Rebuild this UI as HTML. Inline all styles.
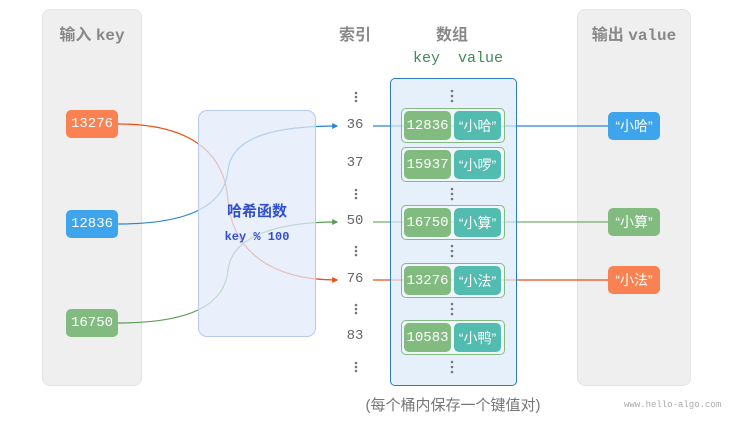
<!DOCTYPE html>
<html><head><meta charset="utf-8"><style>
body{margin:0;width:739px;height:423px;background:#fff;position:relative;overflow:hidden;font-family:"Liberation Sans","Noto Sans CJK SC",sans-serif}
.a{position:absolute}
.mono{font-family:"Liberation Mono","Noto Sans CJK SC",monospace}
.box{position:absolute;border-radius:5px;color:#fff;display:flex;align-items:center;justify-content:center;font-size:14px}
</style></head><body>
<div class="a" style="left:42px;top:9px;width:100px;height:377px;background:#efefef;border:1px solid #e4e4e4;border-radius:8px;box-sizing:border-box"></div>
<div class="a" style="left:577px;top:9px;width:114px;height:377px;background:#efefef;border:1px solid #e4e4e4;border-radius:8px;box-sizing:border-box"></div>

<svg class="a" style="left:0;top:0" width="739" height="423">
<defs>
<marker id="mb" markerWidth="5" markerHeight="5" refX="4" refY="2.5" orient="auto"><path d="M0,0L5,2.5L0,5z" fill="#2a85d0"/></marker>
<marker id="mo" markerWidth="5" markerHeight="5" refX="4" refY="2.5" orient="auto"><path d="M0,0L5,2.5L0,5z" fill="#ee4d14"/></marker>
<marker id="mg" markerWidth="5" markerHeight="5" refX="4" refY="2.5" orient="auto"><path d="M0,0L5,2.5L0,5z" fill="#5a9e5a"/></marker>
</defs>
<path d="M118,124 C200,124 225,160 228,200 C232,250 270,280 337,280" stroke="#ee4d14" stroke-width="1.2" fill="none" marker-end="url(#mo)"/>
<path d="M118,224 C190,224 225,205 228,170 C232,135 280,126 337,126" stroke="#2a85d0" stroke-width="1.2" fill="none" marker-end="url(#mb)"/>
<path d="M118,323 C190,323 225,305 228,270 C232,235 280,222 337,222" stroke="#5a9e5a" stroke-width="1.2" fill="none" marker-end="url(#mg)"/>
<line x1="373" y1="126" x2="608" y2="126" stroke="#2a85d0" stroke-width="1.3"/>
<line x1="373" y1="222" x2="608" y2="222" stroke="#6fae6f" stroke-width="1.3"/>
<line x1="373" y1="280" x2="608" y2="280" stroke="#ee4d14" stroke-width="1.3"/>
</svg>

<div class="a" style="left:198px;top:110px;width:118px;height:227px;background:rgba(225,233,250,0.75);border:1px solid #b9c8f0;border-radius:9px;box-sizing:border-box"></div>
<div class="a" style="left:390px;top:78px;width:127px;height:308px;background:rgba(220,234,248,0.7);border:1.5px solid #2a7ac6;border-radius:5px;box-sizing:border-box"></div>

<svg class="a" style="left:0;top:0" width="739" height="423">
<g fill="#777">
<circle cx="356" cy="93" r="1.3"/><circle cx="356" cy="97" r="1.3"/><circle cx="356" cy="101" r="1.3"/>
<circle cx="356" cy="190" r="1.3"/><circle cx="356" cy="194" r="1.3"/><circle cx="356" cy="198" r="1.3"/>
<circle cx="356" cy="247" r="1.3"/><circle cx="356" cy="251" r="1.3"/><circle cx="356" cy="255" r="1.3"/>
<circle cx="356" cy="305" r="1.3"/><circle cx="356" cy="309" r="1.3"/><circle cx="356" cy="313" r="1.3"/>
<circle cx="356" cy="363" r="1.3"/><circle cx="356" cy="367" r="1.3"/><circle cx="356" cy="371" r="1.3"/>
<circle cx="452" cy="91" r="1.3"/><circle cx="452" cy="96" r="1.3"/><circle cx="452" cy="101" r="1.3"/>
<circle cx="452" cy="189" r="1.3"/><circle cx="452" cy="194" r="1.3"/><circle cx="452" cy="199" r="1.3"/>
<circle cx="452" cy="246" r="1.3"/><circle cx="452" cy="251" r="1.3"/><circle cx="452" cy="256" r="1.3"/>
<circle cx="452" cy="304" r="1.3"/><circle cx="452" cy="309" r="1.3"/><circle cx="452" cy="314" r="1.3"/>
<circle cx="452" cy="362" r="1.3"/><circle cx="452" cy="367" r="1.3"/><circle cx="452" cy="372" r="1.3"/>
</g>
</svg>

<div class="a" style="left:42px;top:21px;width:100px;text-align:center;font-size:16px;font-weight:bold;color:#888">输入 <span class="mono">key</span></div>
<div class="a" style="left:577px;top:21px;width:114px;text-align:center;font-size:16px;font-weight:bold;color:#888">输出 <span class="mono">value</span></div>
<div class="a" style="left:335px;top:21px;width:40px;text-align:center;font-size:16px;font-weight:bold;color:#888">索引</div>
<div class="a" style="left:432px;top:21px;width:40px;text-align:center;font-size:16px;font-weight:bold;color:#888">数组</div>
<div class="a mono" style="left:413px;top:50px;font-size:15px;color:#3e8a55;white-space:pre">key  value</div>

<div class="box mono" style="left:66px;top:110px;width:52px;height:28px;background:#fa8151;font-size:14px">13276</div>
<div class="box mono" style="left:66px;top:210px;width:52px;height:28px;background:#3ea4ec;font-size:14px">12836</div>
<div class="box mono" style="left:66px;top:309px;width:52px;height:28px;background:#82bb80;font-size:14px">16750</div>

<div class="a" style="left:198px;top:200px;width:118px;text-align:center;font-size:15px;font-weight:bold;color:#2f4fd0">哈希函数</div>
<div class="a mono" style="left:198px;top:230px;width:118px;text-align:center;font-size:12px;font-weight:bold;color:#2f4fd0">key % 100</div>

<div class="a mono" style="left:340px;top:117px;width:30px;text-align:center;font-size:14px;color:#666">36</div>
<div class="a mono" style="left:340px;top:155px;width:30px;text-align:center;font-size:14px;color:#666">37</div>
<div class="a mono" style="left:340px;top:213px;width:30px;text-align:center;font-size:14px;color:#666">50</div>
<div class="a mono" style="left:340px;top:271px;width:30px;text-align:center;font-size:14px;color:#666">76</div>
<div class="a mono" style="left:340px;top:328px;width:30px;text-align:center;font-size:14px;color:#666">83</div>

<div class="a" style="left:401px;top:108px;width:104px;height:35px;border:1.5px solid #82bb80;border-radius:5px;box-sizing:border-box;background:rgba(255,255,255,0.4)"></div>
<div class="a" style="left:401px;top:147px;width:104px;height:35px;border:1.5px solid #82bb80;border-radius:5px;box-sizing:border-box;background:rgba(255,255,255,0.4)"></div>
<div class="a" style="left:401px;top:205px;width:104px;height:35px;border:1.5px solid #82bb80;border-radius:5px;box-sizing:border-box;background:rgba(255,255,255,0.4)"></div>
<div class="a" style="left:401px;top:263px;width:104px;height:35px;border:1.5px solid #82bb80;border-radius:5px;box-sizing:border-box;background:rgba(255,255,255,0.4)"></div>
<div class="a" style="left:401px;top:320px;width:104px;height:35px;border:1.5px solid #82bb80;border-radius:5px;box-sizing:border-box;background:rgba(255,255,255,0.4)"></div>

<div class="box mono" style="left:404px;top:111px;width:47px;height:29px;background:#82bb80">12836</div>
<div class="box" style="left:454px;top:111px;width:47px;height:29px;background:#52bcb0">“小哈”</div>
<div class="box mono" style="left:404px;top:150px;width:47px;height:29px;background:#82bb80">15937</div>
<div class="box" style="left:454px;top:150px;width:47px;height:29px;background:#52bcb0">“小啰”</div>
<div class="box mono" style="left:404px;top:208px;width:47px;height:29px;background:#82bb80">16750</div>
<div class="box" style="left:454px;top:208px;width:47px;height:29px;background:#52bcb0">“小算”</div>
<div class="box mono" style="left:404px;top:266px;width:47px;height:29px;background:#82bb80">13276</div>
<div class="box" style="left:454px;top:266px;width:47px;height:29px;background:#52bcb0">“小法”</div>
<div class="box mono" style="left:404px;top:323px;width:47px;height:29px;background:#82bb80">10583</div>
<div class="box" style="left:454px;top:323px;width:47px;height:29px;background:#52bcb0">“小鸭”</div>

<div class="box" style="left:608px;top:112px;width:52px;height:28px;background:#3ea4ec">“小哈”</div>
<div class="box" style="left:608px;top:208px;width:52px;height:28px;background:#82bb80">“小算”</div>
<div class="box" style="left:608px;top:266px;width:52px;height:28px;background:#fa8151">“小法”</div>

<div class="a" style="left:343px;top:394px;width:220px;text-align:center;font-size:15px;color:#777">(每个桶内保存一个键值对)</div>
<div class="a mono" style="left:624px;top:400px;font-size:9px;color:#aaa">www.hello-algo.com</div>
</body></html>
